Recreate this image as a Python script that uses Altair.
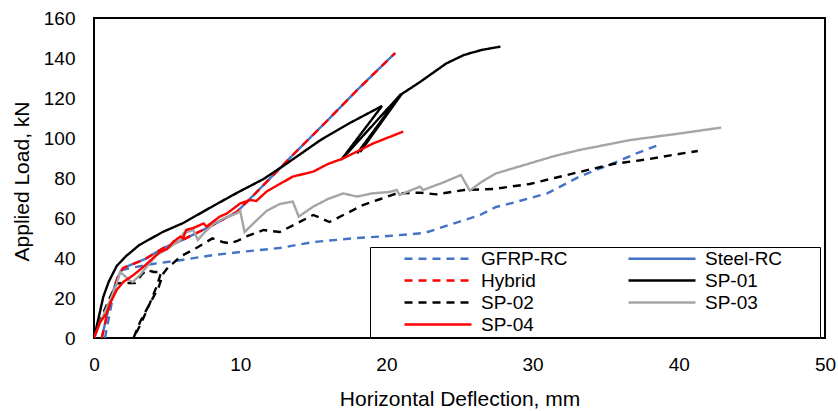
import altair as alt
import pandas as pd

series_names = ["GFRP-RC", "Steel-RC", "Hybrid", "SP-01", "SP-02", "SP-03", "SP-04"]
series_colors = ["#4472C4", "#4472C4", "#FF0000", "#000000", "#000000", "#A5A5A5", "#FF0000"]
series_dashes = [[8, 6], [1, 0], [8, 6], [1, 0], [8, 6], [1, 0], [1, 0]]

gfrp_x = [0.75, 1.2, 1.6, 1.9, 2.5, 4.0, 6.0, 8.2, 10.0, 12.7, 15.0, 18.0, 20.1, 22.6, 24.5, 26.4, 27.5, 28.7, 31.0, 33.2, 35.5, 37.0, 38.6]
gfrp_y = [0.0, 17.0, 30.0, 34.0, 35.0, 37.0, 39.0, 41.5, 43.0, 45.0, 48.0, 50.0, 51.0, 52.5, 57.0, 61.5, 65.5, 67.7, 72.3, 80.7, 87.3, 92.0, 96.5]

steel_x = [0.53, 1.0, 1.5, 1.8, 2.0, 3.5, 4.74, 5.9, 8.0, 9.76, 11.0, 13.6, 16.0, 18.0, 20.6]
steel_y = [0.0, 15.0, 28.0, 33.0, 35.0, 39.5, 45.0, 48.5, 56.0, 63.0, 72.0, 91.5, 109.0, 124.0, 142.5]

hybrid_x = [0.53, 1.0, 1.5, 1.8, 2.0, 3.5, 4.74, 5.9, 8.0, 9.76, 11.0, 13.6, 16.0, 18.0, 20.6]
hybrid_y = [0.0, 15.0, 28.0, 33.0, 35.0, 39.5, 45.0, 48.5, 56.0, 63.0, 72.0, 91.5, 109.0, 124.0, 142.5]

sp01_x = [0.0, 0.25, 0.64, 1.0, 1.55, 2.2, 3.1, 4.7, 6.1, 8.15, 9.76, 11.6, 13.2, 15.5, 17.5, 19.7, 16.9, 21.0, 18.0, 20.9, 18.2, 21.05, 22.3, 24.1, 25.3, 26.5, 27.8]
sp01_y = [0.0, 8.0, 20.7, 28.0, 36.0, 41.0, 46.5, 53.0, 57.5, 66.0, 72.5, 79.5, 87.3, 99.0, 107.5, 116.0, 89.0, 122.0, 92.3, 121.0, 93.0, 122.0, 128.0, 137.3, 141.5, 144.0, 145.7]

sp02_x = [0.0, 0.6, 1.2, 1.55, 2.2, 2.8, 3.3, 3.6, 4.1, 4.6, 4.3, 3.8, 3.2, 2.7, 3.15, 3.8, 4.4, 4.75, 5.1, 5.4, 5.9, 7.0, 8.1, 8.8, 9.3, 9.8, 10.4, 11.6, 12.7, 13.8, 15.0, 15.5, 16.1, 17.2, 18.4, 19.6, 20.7, 22.3, 23.4, 25.3, 27.3, 29.8, 31.5, 33.2, 35.5, 37.8, 40.0, 41.3]
sp02_y = [0.0, 12.0, 22.0, 27.3, 27.5, 27.5, 32.0, 34.0, 33.0, 33.0, 26.0, 17.0, 7.0, 0.0, 8.0, 17.0, 25.0, 32.3, 35.7, 37.3, 40.7, 45.0, 49.8, 48.0, 47.3, 48.5, 50.7, 54.0, 53.0, 57.0, 61.5, 60.0, 58.0, 62.0, 66.5, 69.5, 72.3, 72.7, 71.8, 74.0, 74.5, 77.0, 80.0, 83.0, 87.0, 89.3, 92.0, 93.5]

sp03_x = [0.0, 0.5, 1.1, 1.5, 1.8, 2.1, 2.4, 2.65, 3.15, 3.7, 4.3, 5.1, 5.9, 6.1, 6.8, 7.1, 7.5, 8.2, 8.8, 9.76, 10.0, 10.3, 11.0, 11.8, 12.7, 13.6, 14.0, 15.0, 16.0, 17.05, 18.0, 19.0, 20.2, 20.7, 20.9, 22.3, 22.5, 23.8, 25.1, 25.7, 26.5, 27.5, 29.8, 31.5, 33.2, 36.7, 40.1, 42.9]
sp03_y = [0.0, 9.0, 19.0, 26.0, 33.0, 31.0, 29.0, 28.0, 31.5, 36.5, 41.5, 45.0, 49.0, 52.3, 54.0, 49.0, 52.3, 57.3, 59.5, 62.3, 63.5, 53.0, 58.0, 63.5, 67.0, 68.2, 60.7, 65.7, 69.5, 72.3, 70.7, 72.3, 73.0, 74.0, 71.5, 75.7, 74.0, 77.5, 81.5, 73.7, 78.0, 82.3, 87.3, 91.0, 94.0, 99.0, 102.3, 105.2]

sp04_x = [0.0, 0.41, 0.87, 1.1, 1.55, 2.0, 2.7, 3.4, 4.5, 5.0, 5.4, 5.9, 6.1, 6.3, 6.8, 7.5, 7.7, 8.6, 9.1, 10.0, 10.7, 11.1, 11.8, 12.7, 13.6, 15.0, 16.0, 17.05, 19.1, 21.15]
sp04_y = [0.0, 8.0, 12.3, 17.3, 24.0, 28.0, 31.5, 35.7, 43.0, 44.5, 48.0, 50.7, 50.0, 54.0, 55.0, 57.3, 55.7, 60.7, 62.3, 67.3, 69.0, 68.5, 73.2, 77.0, 80.7, 83.2, 87.0, 89.8, 97.3, 103.2]

series_x = [gfrp_x, steel_x, hybrid_x, sp01_x, sp02_x, sp03_x, sp04_x]
series_y = [gfrp_y, steel_y, hybrid_y, sp01_y, sp02_y, sp03_y, sp04_y]

rows = []
for name, xs, ys in zip(series_names, series_x, series_y):
    for i, (xv, yv) in enumerate(zip(xs, ys)):
        rows.append({"series": name, "x": xv, "y": yv, "idx": i})
df = pd.DataFrame(rows)

FONT = "Liberation Sans"
TAIL = "    " + "\u2800"  # invisible tail that widens the legend's right margin

legend = alt.Legend(
    title=None,
    orient="none",
    direction="horizontal",
    legendX=276,
    legendY=229,
    columns=2,
    symbolType="stroke",
    symbolSize=4489,
    symbolStrokeWidth=2.5,
    clipHeight=19,
    labelFont=FONT,
    labelFontSize=19,
    labelColor="black",
    labelLimit=400,
    strokeColor="black",
    fillColor="white",
    padding=2,
    rowPadding=2,
    columnPadding=28,
    symbolOffset=31,
    labelOffset=8,
    labelExpr="datum.index % 2 == 1 ? datum.label + '" + TAIL + "' : datum.label",
)

color_enc = alt.Color("series:N", scale=alt.Scale(domain=series_names, range=series_colors), legend=legend)
dash_enc = alt.StrokeDash("series:N", scale=alt.Scale(domain=series_names, range=series_dashes), legend=legend)

x_enc = alt.X(
    "x:Q",
    scale=alt.Scale(domain=[0, 50], nice=False),
    axis=alt.Axis(
        title="Horizontal Deflection, mm",
        values=[0, 10, 20, 30, 40, 50],
        grid=False, domain=False, ticks=False, tickSize=0,
        labelPadding=17, labelFontSize=19, labelFont=FONT, labelColor="black",
        labelFlush=False, labelOverlap=False,
        titleFont=FONT, titleFontSize=21, titleFontWeight="normal", titleColor="black",
        titleY=67, titleBaseline="alphabetic",
    ),
)
y_enc = alt.Y(
    "y:Q",
    scale=alt.Scale(domain=[0, 160], nice=False),
    axis=alt.Axis(
        title="Applied Load, kN",
        values=[0, 20, 40, 60, 80, 100, 120, 140, 160],
        grid=False, domain=False, ticks=False, tickSize=0,
        labelPadding=19, labelFontSize=19, labelFont=FONT, labelColor="black",
        labelFlush=False, labelOverlap=False,
        titleFont=FONT, titleFontSize=21, titleFontWeight="normal", titleColor="black",
        titleX=-66, titleY=163, titleAngle=270, titleBaseline="alphabetic",
    ),
)

layers = []
for name in series_names:
    layers.append(
        alt.Chart(df)
        .transform_filter(alt.datum.series == name)
        .mark_line(strokeWidth=2.4, clip=True)
        .encode(x=x_enc, y=y_enc, color=color_enc, strokeDash=dash_enc, order=alt.Order("idx:Q"))
    )

chart = (
    alt.layer(*layers)
    .properties(
        width=731,
        height=320,
        autosize=alt.AutoSizeParams(type="none"),
        padding={"left": 94, "top": 18, "right": 13, "bottom": 73},
        background="white",
    )
    .configure_view(stroke="black", strokeWidth=2)
)

chart.save("out.html", embed_options={"renderer": "svg", "actions": False})
